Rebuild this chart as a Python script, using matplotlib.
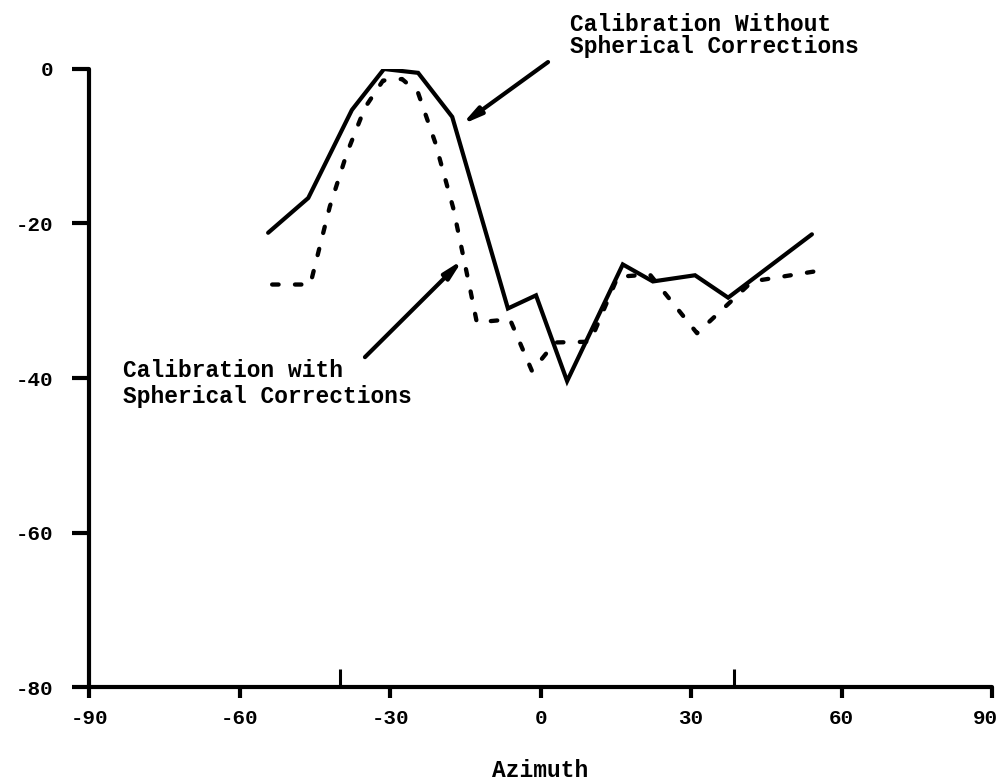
import matplotlib
matplotlib.use("Agg")
import matplotlib.pyplot as plt
from matplotlib.transforms import ScaledTranslation

# Calibration without spherical corrections (solid)
azimuth_without = [-54.3, -46.3, -37.6, -31.2, -24.4, -17.6, -6.5, -0.9, 5.3,
                   16.4, 22.4, 30.8, 37.4, 54.1]
level_without = [-21.2, -16.7, -5.3, 0.0, -0.5, -6.2, -31.0, -29.3, -40.4,
                 -25.3, -27.5, -26.7, -29.6, -21.4]

# Calibration with spherical corrections (dashed)
azimuth_with = [-53.5, -45.9, -42.0, -38.6, -35.0, -31.4, -27.6, -24.4, -21.0,
                -17.4, -14.0, -12.7, -6.1, -1.7, 2.9, 9.9, 15.4, 21.8, 31.2,
                42.2, 54.7]
level_with = [-27.9, -27.9, -17.8, -10.9, -5.0, -1.5, -1.3, -3.1, -9.5,
              -18.0, -28.6, -32.8, -32.4, -39.1, -35.4, -35.3, -26.9, -26.6,
              -34.2, -27.5, -26.2]

x_ticks = [-90, -60, -30, 0, 30, 60, 90]
x_tick_labels = ["-90", "-60", "-30", "0", "30", "60", "90"]
y_ticks = [0, -20, -40, -60, -80]
y_tick_labels = ["0", "-20", "-40", "-60", "-80"]
x_inner_ticks = [-40, 38.5]

FONT = "Liberation Mono"
INK = "black"

fig = plt.figure(figsize=(9.97, 7.84), dpi=100)
ax = fig.add_axes([0.0893, 0.1237, 0.9057, 0.7883])

ax.plot(azimuth_without, level_without, color=INK, lw=3.0,
        solid_joinstyle="miter", solid_capstyle="round")
ax.plot(azimuth_with, level_with, color=INK, lw=3.1,
        linestyle=(0, (1.5, 3.8)), dash_capstyle="round")

ax.set_xlim(-90, 90)
ax.set_ylim(-80, 0)

for side in ("top", "right"):
    ax.spines[side].set_visible(False)
for side in ("left", "bottom"):
    ax.spines[side].set_linewidth(3.0)
    ax.spines[side].set_capstyle("round")

ax.set_xticks(x_ticks)
ax.set_xticklabels(x_tick_labels)
ax.set_yticks(y_ticks)
ax.set_yticklabels(y_tick_labels)
ax.set_xticks(x_inner_ticks, minor=True)

ax.tick_params(axis="x", which="major", direction="out", length=8, width=3.0,
               pad=8, labelsize=15)
ax.tick_params(axis="x", which="minor", direction="in", length=13, width=2.2)
ax.tick_params(axis="y", which="major", direction="out", length=12, width=3.0,
               pad=14, labelsize=15)
for lab in ax.get_xticklabels() + ax.get_yticklabels():
    lab.set_fontfamily(FONT)
    lab.set_fontweight("bold")

# keep the last azimuth label inside the canvas
last = ax.get_xticklabels()[-1]
last.set_horizontalalignment("right")
last.set_transform(last.get_transform() + ScaledTranslation(4 / 72, 0, fig.dpi_scale_trans))

ax.set_xlabel("Azimuth", fontfamily=FONT, fontweight="bold", fontsize=16.5,
              labelpad=22)

arrow = dict(arrowstyle="-|>,head_length=1.1,head_width=0.25", color=INK,
             lw=3.0, shrinkA=0, shrinkB=0)

ax.annotate("", xy=(-15.7, -7.2), xytext=(1.5, 0.9), arrowprops=arrow,
            annotation_clip=False)
ax.annotate("", xy=(-15.5, -24.7), xytext=(-35.0, -37.3), arrowprops=arrow,
            annotation_clip=False)

ax.text(5.9, 4.3, "Calibration Without\nSpherical Corrections",
        fontfamily=FONT, fontweight="bold", fontsize=16.5, ha="left",
        va="center", linespacing=0.95, clip_on=False)
ax.text(-83.2, -40.7, "Calibration with\nSpherical Corrections",
        fontfamily=FONT, fontweight="bold", fontsize=16.5, ha="left",
        va="center", linespacing=1.2, clip_on=False)

fig.savefig("out.png", dpi=100, facecolor="white")
